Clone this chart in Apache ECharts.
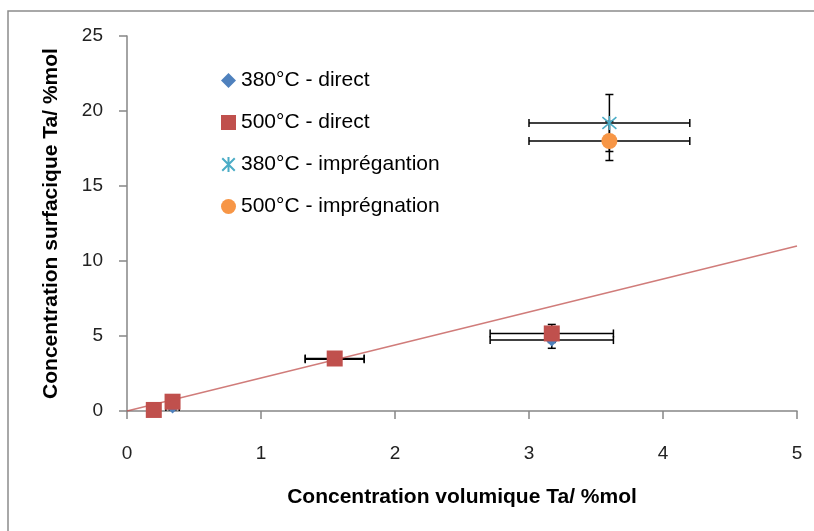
<!DOCTYPE html>
<html>
<head>
<meta charset="utf-8">
<style>
  html, body {margin: 0; padding: 0; background: #fff;}
  #chart {width: 814px; height: 531px;}
</style>
<script src="https://cdn.jsdelivr.net/npm/echarts@6/dist/echarts.min.js"></script>
</head>
<body>
<div id="chart"></div>
<script>
// series names
var seriesNames = ['380°C - direct', '500°C - direct', '380°C - imprégantion', '500°C - imprégnation'];

// [x, y, xErr, yErr]
var direct380 = [
    [0.20, 0.10, 0.02, 0.10],
    [0.34, 0.27, 0.05, 0.20],
    [1.55, 3.45, 0.22, 0.20],
    [3.17, 4.73, 0.46, 0.55]
];
var direct500 = [
    [0.20, 0.07, 0.02, 0.10],
    [0.34, 0.62, 0.05, 0.20],
    [1.55, 3.50, 0.22, 0.20],
    [3.17, 5.17, 0.46, 0.60]
];
var impreg380 = [
    [3.60, 19.2, 0.60, 1.90]
];
var impreg500 = [
    [3.60, 18.0, 0.60, 1.30]
];

// trend line end points
var trendLine = [[0, 0], [5, 11]];

var xTicks = {min: 0, max: 5, interval: 1};
var yTicks = {min: 0, max: 25, interval: 5};

var colors = ['#4f81bd', '#c0504d', '#4bacc6', '#f79646'];
var font = 'Liberation Sans, Arial, sans-serif';

var chart = echarts.init(document.getElementById('chart'));

// error bars drawn with the axis scales
function errorBars(api) {
    var x = api.value(0), y = api.value(1);
    var ex = api.value(2), ey = api.value(3);
    var cap = 4;
    var l = api.coord([x - ex, y]);
    var r = api.coord([x + ex, y]);
    var t = api.coord([x, y + ey]);
    var b = api.coord([x, y - ey]);
    var style = {stroke: '#000', lineWidth: 1.5};
    var lines = [
        [l, r],
        [[l[0], l[1] - cap], [l[0], l[1] + cap]],
        [[r[0], r[1] - cap], [r[0], r[1] + cap]],
        [t, b],
        [[t[0] - cap, t[1]], [t[0] + cap, t[1]]],
        [[b[0] - cap, b[1]], [b[0] + cap, b[1]]]
    ];
    return {
        type: 'group',
        children: lines.map(function (p) {
            return {
                type: 'line',
                shape: {x1: p[0][0], y1: p[0][1], x2: p[1][0], y2: p[1][1]},
                style: style
            };
        })
    };
}

function errSeries(data) {
    return {
        type: 'custom',
        renderItem: function (params, api) { return errorBars(api); },
        data: data,
        z: 1,
        silent: true
    };
}

var asterisk = 'path://M0,0 L10,10 M10,0 L0,10 M5,-1 L5,11';

var option = {
    animation: false,
    textStyle: {fontFamily: font},
    graphic: [
        {
            type: 'rect',
            shape: {x: 8, y: 11, width: 900, height: 600},
            style: {fill: 'none', stroke: '#8c8c8c', lineWidth: 1.5},
            silent: true
        }
    ],
    grid: {left: 127, right: 17, top: 36, bottom: 120},
    legend: {
        orient: 'vertical',
        left: 216,
        top: 65,
        itemGap: 21,
        itemWidth: 15,
        itemHeight: 15,
        textStyle: {fontSize: 21, lineHeight: 21, color: '#000', fontFamily: font},
        data: [
            {name: seriesNames[0], icon: 'diamond'},
            {name: seriesNames[1], icon: 'rect'},
            {name: seriesNames[2], icon: asterisk},
            {name: seriesNames[3], icon: 'circle'}
        ]
    },
    xAxis: {
        type: 'value',
        min: xTicks.min,
        max: xTicks.max,
        interval: xTicks.interval,
        name: 'Concentration volumique Ta/ %mol',
        nameLocation: 'middle',
        nameGap: 76,
        nameTextStyle: {fontSize: 21, fontWeight: 'bold', color: '#000', fontFamily: font},
        splitLine: {show: false},
        axisLine: {show: true, onZero: false, lineStyle: {color: '#868686', width: 1.5}},
        axisTick: {show: true, length: 8, lineStyle: {color: '#868686', width: 1.5}},
        axisLabel: {margin: 33, fontSize: 19, color: '#222', fontFamily: font}
    },
    yAxis: {
        type: 'value',
        min: yTicks.min,
        max: yTicks.max,
        interval: yTicks.interval,
        name: 'Concentration surfacique Ta/ %mol',
        nameLocation: 'middle',
        nameGap: 65,
        nameTextStyle: {fontSize: 21, fontWeight: 'bold', color: '#000', fontFamily: font},
        splitLine: {show: false},
        axisLine: {show: true, lineStyle: {color: '#868686', width: 1.5}},
        axisTick: {show: true, length: 8, lineStyle: {color: '#868686', width: 1.5}},
        axisLabel: {margin: 24, fontSize: 19, color: '#222', fontFamily: font}
    },
    series: [
        errSeries(direct380),
        errSeries(direct500),
        errSeries(impreg380),
        errSeries(impreg500),
        {
            name: seriesNames[0],
            type: 'scatter',
            symbol: 'diamond',
            symbolSize: 13,
            itemStyle: {color: colors[0], opacity: 1},
            data: direct380,
            z: 3
        },
        {
            name: seriesNames[1],
            type: 'scatter',
            symbol: 'rect',
            symbolSize: 16,
            itemStyle: {color: colors[1], opacity: 1},
            data: direct500,
            z: 4
        },
        {
            name: seriesNames[2],
            type: 'scatter',
            symbol: asterisk,
            symbolSize: 14,
            itemStyle: {color: colors[2], borderColor: colors[2], borderWidth: 1.6, opacity: 1},
            data: impreg380,
            z: 4
        },
        {
            name: seriesNames[3],
            type: 'scatter',
            symbol: 'circle',
            symbolSize: 16,
            itemStyle: {color: colors[3], opacity: 1},
            data: impreg500,
            z: 4
        },
        {
            type: 'line',
            data: trendLine,
            symbol: 'none',
            silent: true,
            lineStyle: {color: '#c0504d', width: 1.5, opacity: 0.75},
            z: 5
        }
    ]
};

chart.setOption(option);
</script>
</body>
</html>
